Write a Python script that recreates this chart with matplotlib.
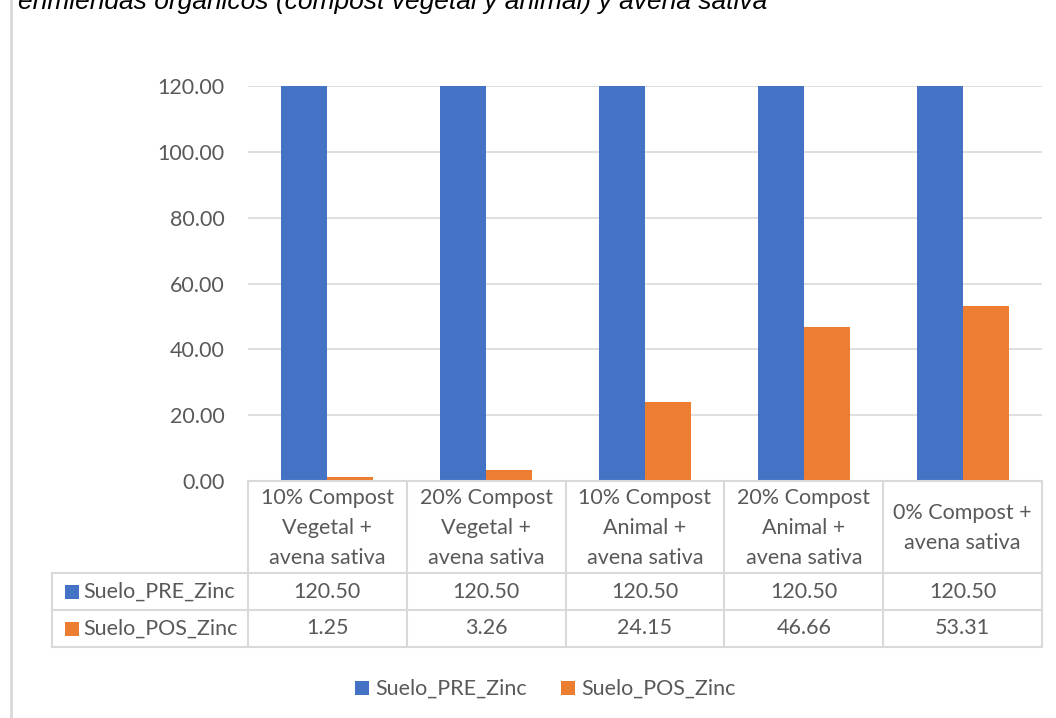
import matplotlib.pyplot as plt
from matplotlib.lines import Line2D
from matplotlib.patches import Rectangle
import matplotlib.transforms as mtransforms
import numpy as np

# datos
categorias = ["10% Compost\nVegetal +\navena sativa",
              "20% Compost\nVegetal +\navena sativa",
              "10% Compost\nAnimal +\navena sativa",
              "20% Compost\nAnimal +\navena sativa",
              "0% Compost +\navena sativa"]
series = ["Suelo_PRE_Zinc", "Suelo_POS_Zinc"]
pre_zinc = [120.50, 120.50, 120.50, 120.50, 120.50]
pos_zinc = [1.25, 3.26, 24.15, 46.66, 53.31]
titulo = "enmiendas orgánicos (compost vegetal y animal) y avena sativa"

azul = "#4472C4"
naranja = "#ED7D31"
gris_txt = "#595959"
gris_lin = "#D9D9D9"
fs = 15.5

plt.rcParams['font.family'] = ['Lato', 'DejaVu Sans']

W, H = 1056, 718
fig = plt.figure(figsize=(W / 100, H / 100), dpi=100)

def fx(px):
    return px / W

def fy(py):
    return 1 - py / H

# ejes del grafico
ax = fig.add_axes([fx(248), fy(481), fx(1042) - fx(248), fy(86) - fy(481)])
x = np.arange(len(categorias))
ancho = 0.29
ax.bar(x - ancho / 2, pre_zinc, ancho, color=azul, label=series[0])
ax.bar(x + ancho / 2, pos_zinc, ancho, color=naranja, label=series[1])
ax.set_xlim(-0.5, len(categorias) - 0.5)
ax.set_ylim(0, 120)
ax.set_yticks(np.arange(0, 121, 20))
ax.set_yticklabels([f"{v:.2f}" for v in np.arange(0, 121, 20)])
ax.set_xticks([])
ax.grid(axis='y', color=gris_lin, lw=1.2)
ax.set_axisbelow(True)
for s in ax.spines.values():
    s.set_visible(False)
ax.tick_params(axis='y', length=0, pad=17, labelsize=fs, labelcolor=gris_txt)

# tabla de datos
trans = mtransforms.blended_transform_factory(ax.transData, fig.transFigure)
bordes = np.arange(len(categorias) + 1) - 0.5
y_top, y_r1, y_r2, y_bot = 481, 573, 610, 647
lw_t = 1.5
# lineas horizontales
fig.add_artist(Line2D([bordes[0], bordes[-1]], [fy(y_top)] * 2, transform=trans, color=gris_lin, lw=lw_t))
for yy in (y_r1, y_r2, y_bot):
    fig.add_artist(Line2D([fx(52), fx(1042)], [fy(yy)] * 2, transform=fig.transFigure, color=gris_lin, lw=lw_t))
# lineas verticales
for b in bordes:
    fig.add_artist(Line2D([b, b], [fy(y_top), fy(y_bot)], transform=trans, color=gris_lin, lw=lw_t))
fig.add_artist(Line2D([fx(52), fx(52)], [fy(y_r1), fy(y_bot)], transform=fig.transFigure, color=gris_lin, lw=lw_t))

for i, cat in enumerate(categorias):
    fig.text(i, fy((y_top + y_r1) / 2 + 1), cat, transform=trans, ha='center', va='center',
             fontsize=fs, color=gris_txt, linespacing=1.6)
    fig.text(i, fy((y_r1 + y_r2) / 2), f"{pre_zinc[i]:.2f}", transform=trans, ha='center', va='center',
             fontsize=fs, color=gris_txt)
    fig.text(i, fy((y_r2 + y_bot) / 2), f"{pos_zinc[i]:.2f}", transform=trans, ha='center', va='center',
             fontsize=fs, color=gris_txt)

for yy, nombre, col in ((y_r1, series[0], azul), (y_r2, series[1], naranja)):
    yc = (yy + yy + 37) / 2
    fig.add_artist(Rectangle((fx(65), fy(yc + 7)), fx(14), fy(yc - 7) - fy(yc + 7),
                             transform=fig.transFigure, color=col, lw=0))
    fig.text(fx(83), fy(yc), nombre, ha='left', va='center', fontsize=fs, color=gris_txt)

# leyenda
for x0, nombre, col in ((355, series[0], azul), (561, series[1], naranja)):
    fig.add_artist(Rectangle((fx(x0), fy(695)), fx(14), fy(681) - fy(695),
                             transform=fig.transFigure, color=col, lw=0))
    fig.text(fx(x0 + 20), fy(688.5), nombre, ha='left', va='center', fontsize=fs, color=gris_txt)

# borde izquierdo y titulo cortado
fig.add_artist(Line2D([fx(11), fx(11)], [0, 1], transform=fig.transFigure, color=gris_lin, lw=2))
fig.text(fx(18), fy(9), titulo, ha='left', va='baseline', fontsize=19, style='italic',
         color='black', family=['Liberation Sans', 'DejaVu Sans'])

fig.savefig("out.png", dpi=100)
